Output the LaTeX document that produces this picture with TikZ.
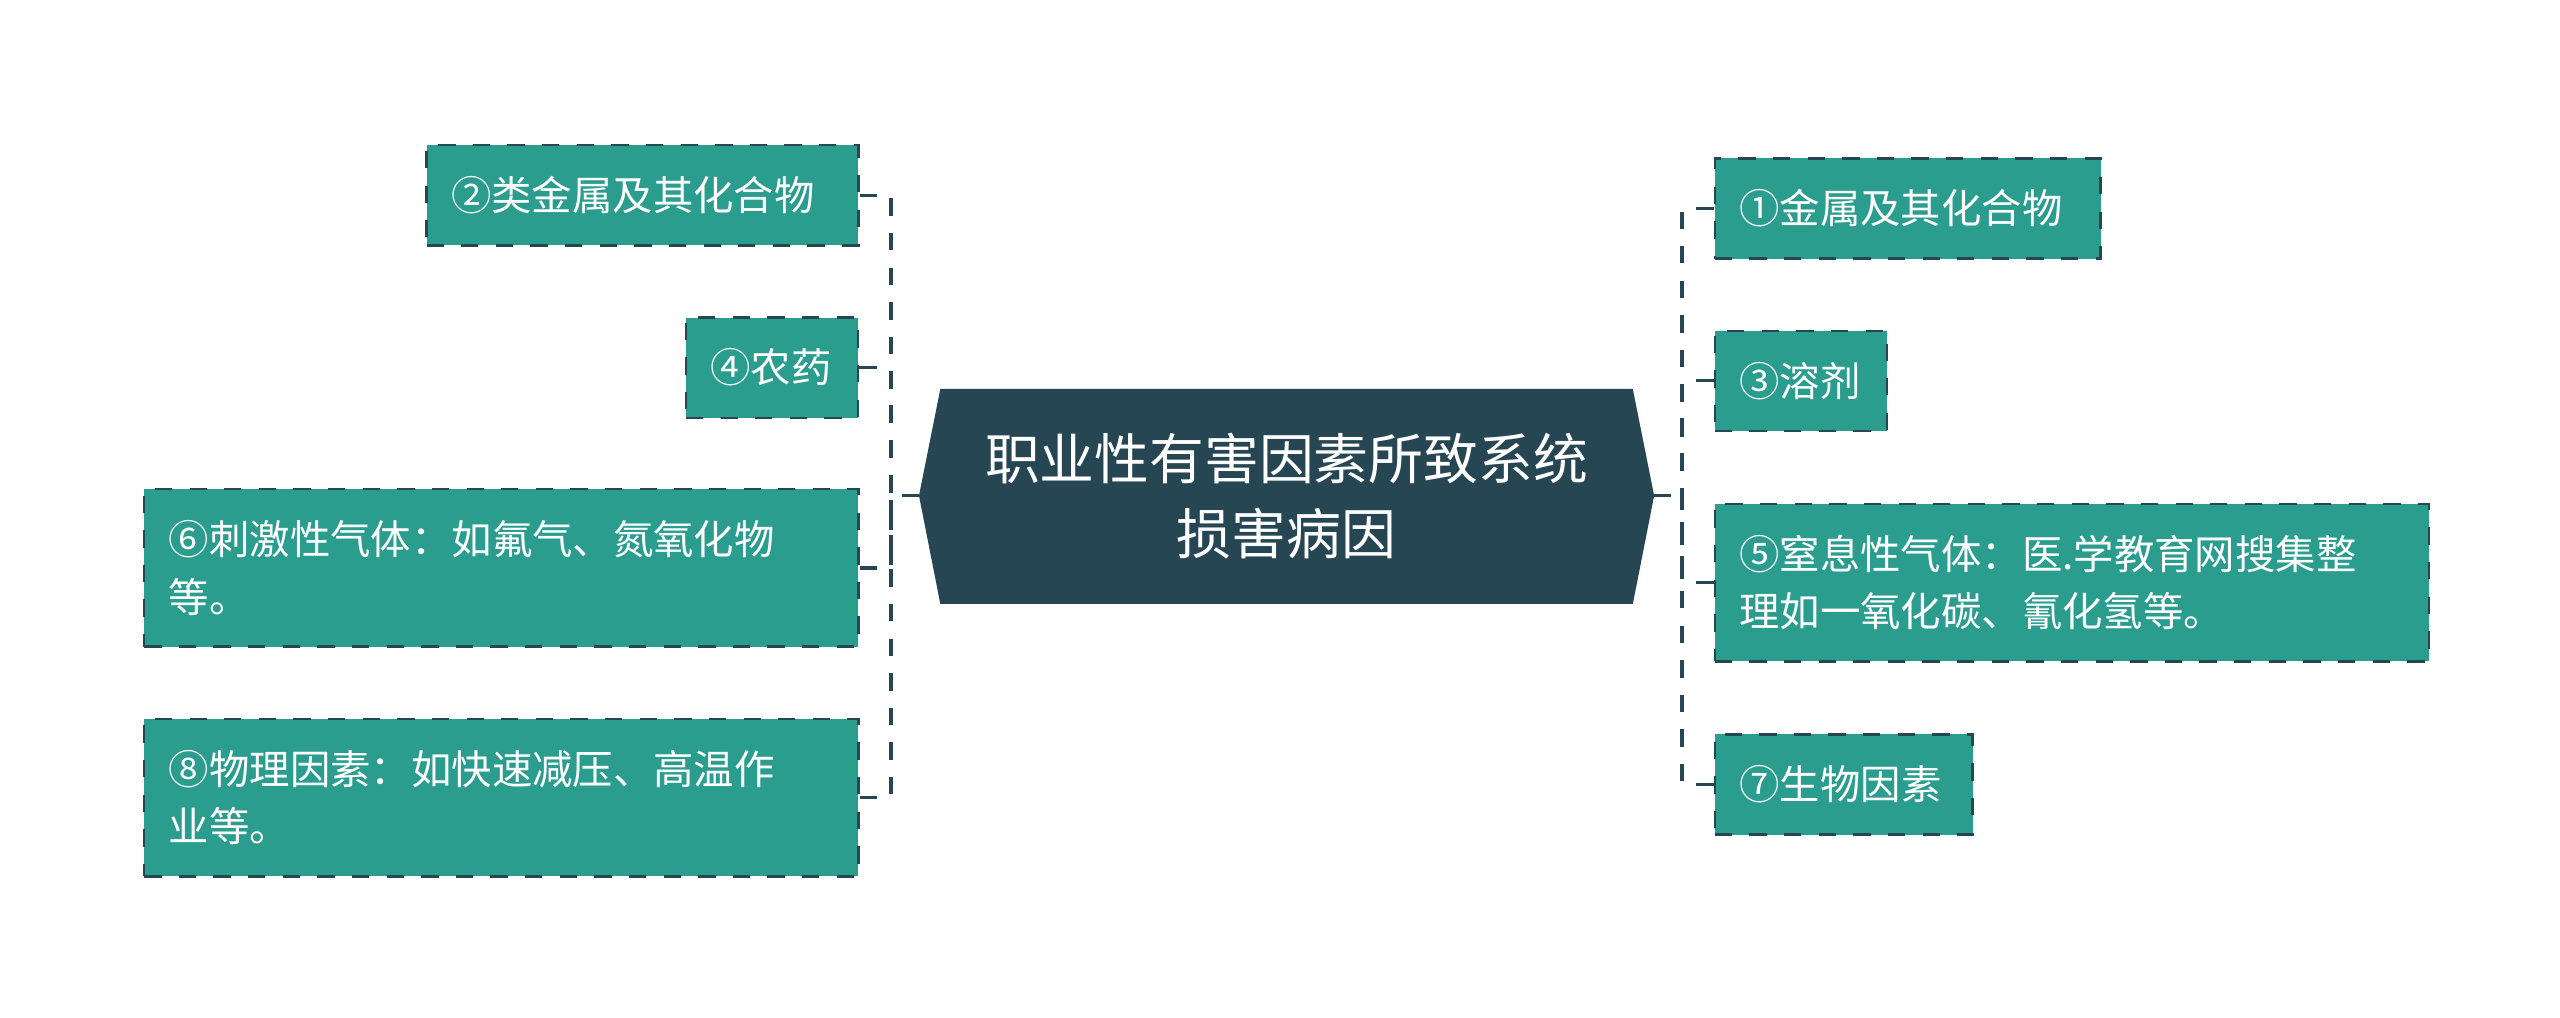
\documentclass[tikz,border=0pt]{standalone}
\usepackage{fontspec}
\newfontfamily\cjk{Noto Sans CJK SC}
\usetikzlibrary{shapes.geometric}
\definecolor{leafteal}{HTML}{2A9D8F}
\definecolor{rootdark}{HTML}{264653}
\tikzset{
  leafbox/.style={draw=rootdark, dashed, fill=leafteal, text=white, font=\cjk\fontsize{7}{10}\selectfont,
    align=left, inner sep=0pt, minimum height=#1},
  leafbox/.default=0.61cm,
  linkline/.style={draw=rootdark, dashed, line width=0.6pt}
}
\begin{document}
\begin{tikzpicture}[x=0.01cm, y=-0.01cm]
  \useasboundingbox (0,0) rectangle (1560,620);
  % root
  \fill[rootdark] (560,302) -- (573,237) -- (995,237) -- (1008,302) -- (995,368) -- (573,368) -- cycle;
  \node (root) [text=white, font=\cjk\fontsize{9.5}{13}\selectfont, align=center] at (784,302)
    {职业性有害因素所致系统\\损害病因};
  \coordinate (rootw) at (560,302);
  \coordinate (roote) at (1008,302);
  % left
  \node (n2) [leafbox, minimum width=2.63cm, text width=2.33cm] at (391.5,119) {②类金属及其化合物};
  \node (n4) [leafbox, minimum width=1.05cm, text width=0.75cm] at (470.5,224) {④农药};
  \node (n6) [leafbox=0.96cm, minimum width=4.35cm, text width=4.05cm] at (305.5,346) {⑥刺激性气体：如氟气、氮氧化物\\等。};
  \node (n8) [leafbox=0.96cm, minimum width=4.35cm, text width=4.05cm] at (305.5,486) {⑧物理因素：如快速减压、高温作\\业等。};
  % right
  \node (n1) [leafbox, minimum width=2.35cm, text width=2.05cm] at (1162.5,127) {①金属及其化合物};
  \node (n3) [leafbox, minimum width=1.05cm, text width=0.75cm] at (1097.5,232) {③溶剂};
  \node (n5) [leafbox=0.96cm, minimum width=4.35cm, text width=4.05cm] at (1262.5,355) {⑤窒息性气体：医.学教育网搜集整\\理如一氧化碳、氰化氢等。};
  \node (n7) [leafbox, minimum width=1.57cm, text width=1.27cm] at (1123.5,478) {⑦生物因素};
  % links
  \draw[linkline] (rootw) -- (543,302);
  \foreach \n in {n2,n4,n6,n8}
    \draw[linkline] (\n.east) -| (543,302);
  \draw[linkline] (roote) -- (1025,302);
  \foreach \n in {n1,n3,n5,n7}
    \draw[linkline] (\n.west) -| (1025,302);
\end{tikzpicture}
\end{document}
